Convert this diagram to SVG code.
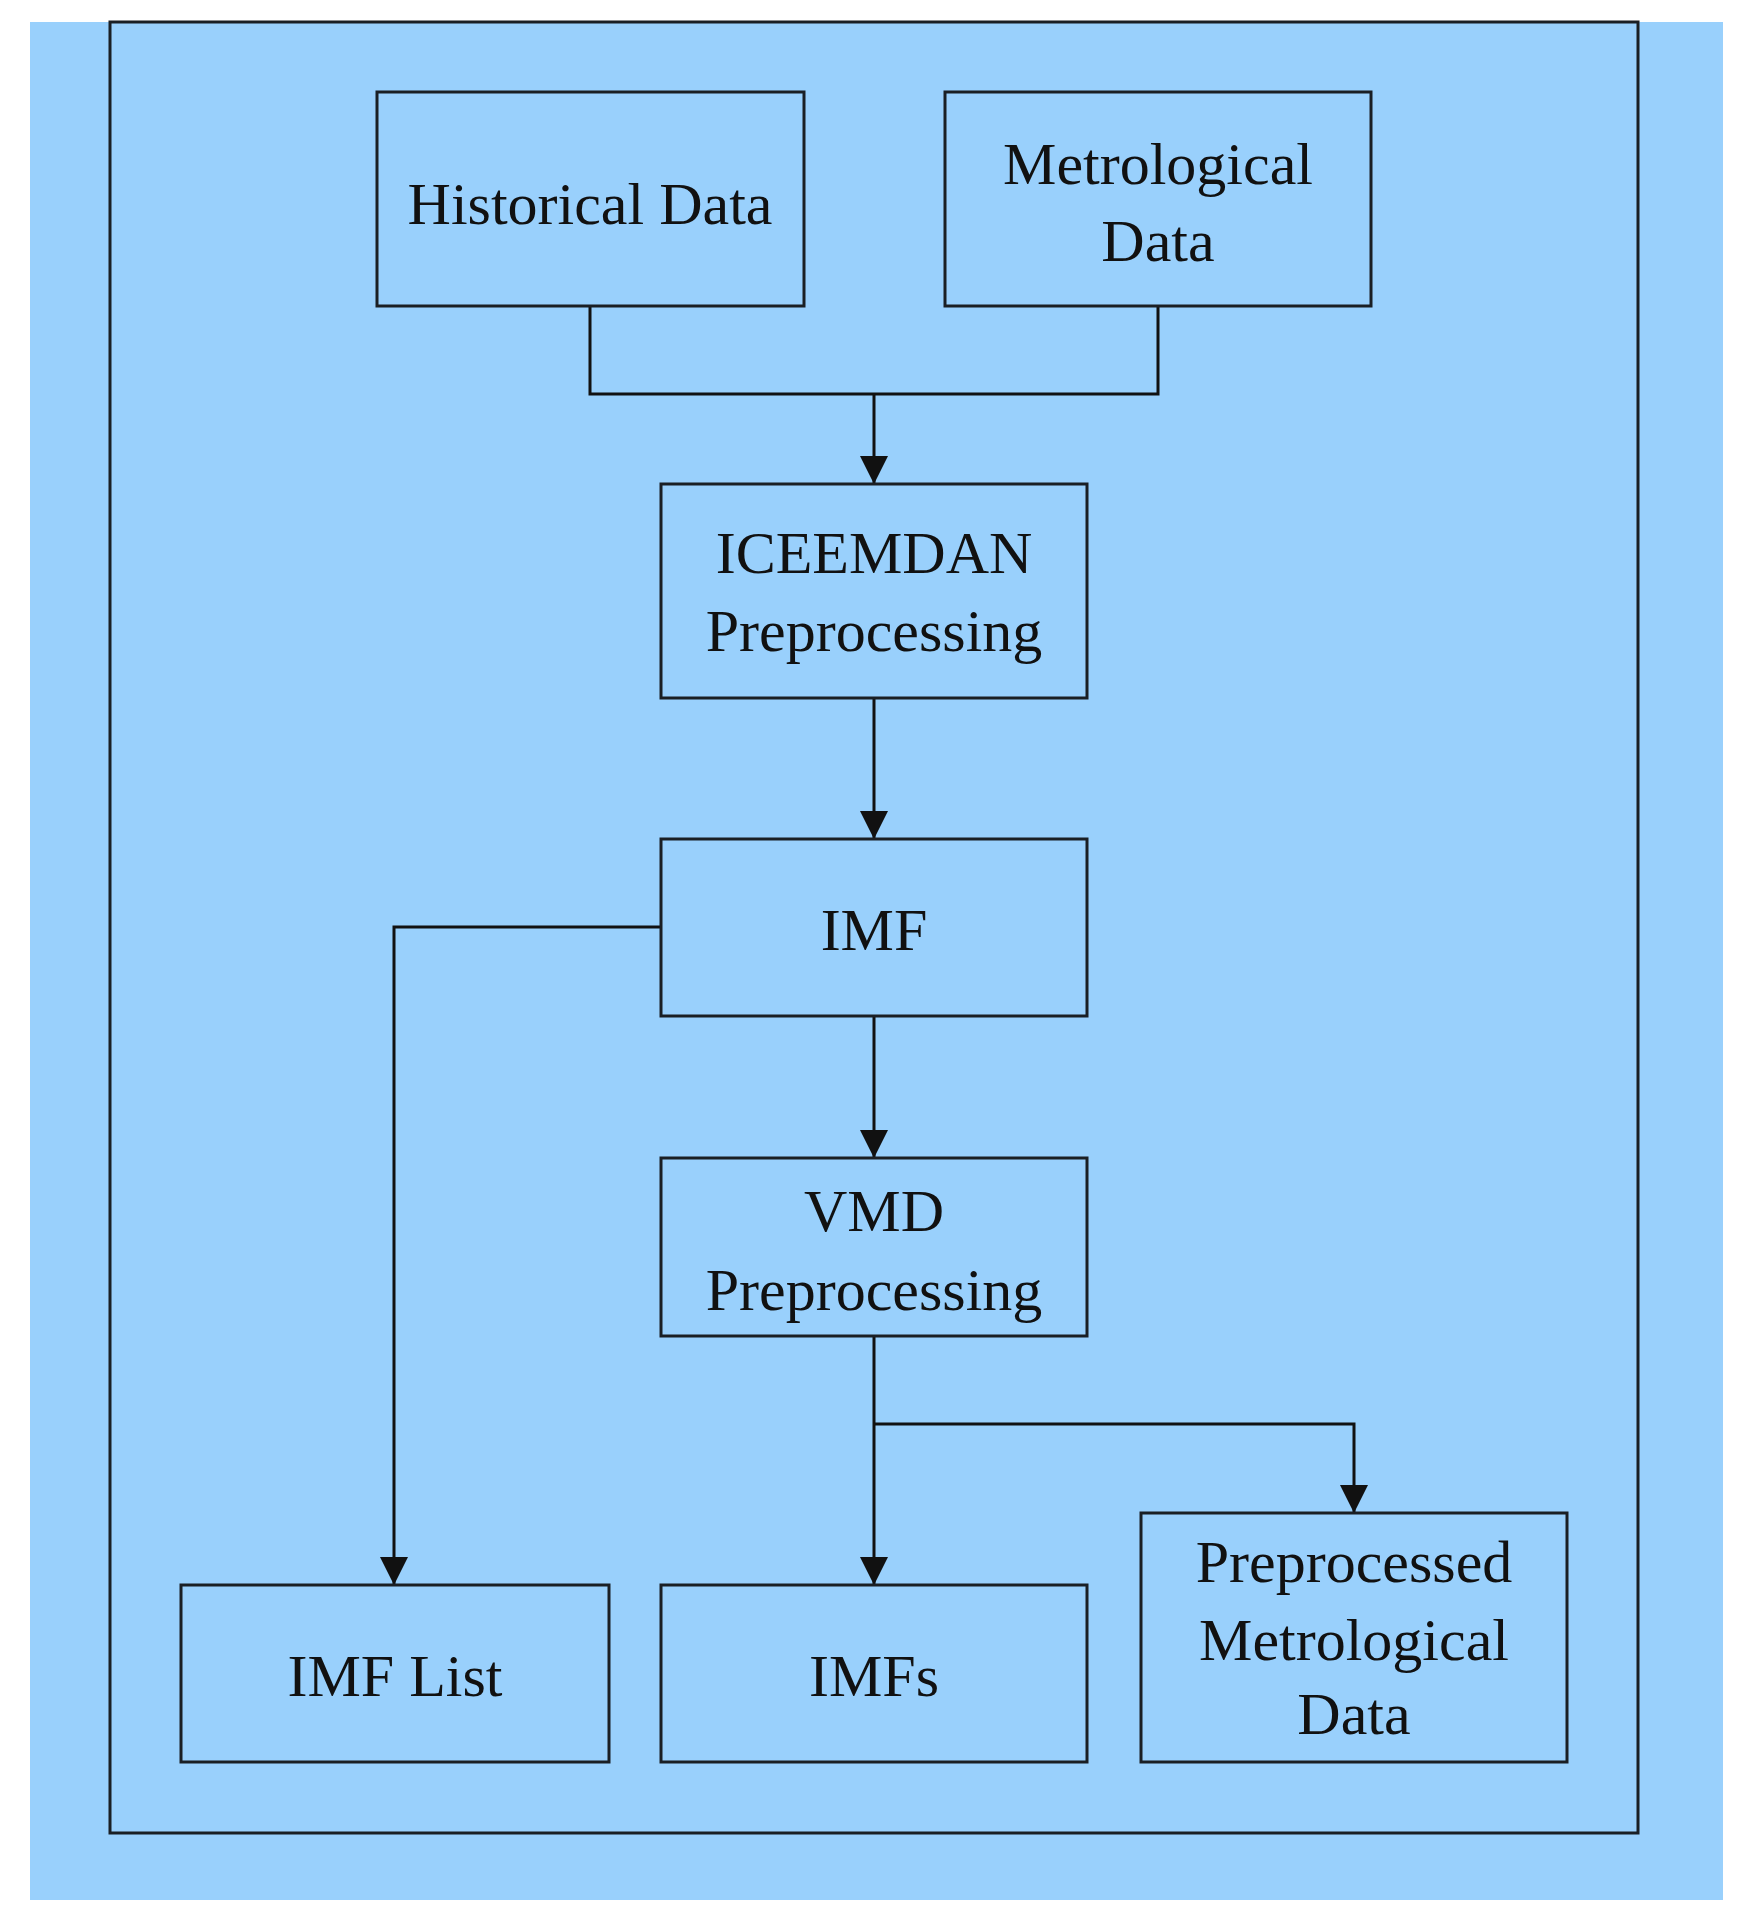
<svg xmlns="http://www.w3.org/2000/svg" width="1746" height="1923" viewBox="0 0 1746 1923">
<style>
.box{fill:#99d0fc;stroke:#1a1f24;stroke-width:3}
.t{font-family:"Liberation Serif",serif;font-size:60px;fill:#111;text-anchor:middle}
.c{fill:none;stroke:#111;stroke-width:3}
</style>
<defs><marker id="a" markerWidth="10" markerHeight="10" refX="9" refY="5" orient="auto" markerUnits="userSpaceOnUse" viewBox="0 0 10 10"><path d="M0,0L10,5L0,10z" fill="#111"/></marker>
<marker id="ah" viewBox="0 0 10 10" refX="10" refY="5" markerWidth="28" markerHeight="28" markerUnits="userSpaceOnUse" orient="auto"><path d="M0,0L10,5L0,10z" fill="#111"/></marker></defs>
<rect x="0" y="0" width="1746" height="1923" fill="#fff"/>
<rect x="30" y="22" width="1693" height="1878" fill="#99d0fc"/>
<rect x="110" y="22" width="1528" height="1811" fill="none" stroke="#1a1f24" stroke-width="3"/>
<g id="connectors">
<path class="c" d="M590,306V394H1158V306"/>
<path class="c" d="M874,394V484" marker-end="url(#ah)"/>
<path class="c" d="M874,698V839" marker-end="url(#ah)"/>
<path class="c" d="M874,1016V1158" marker-end="url(#ah)"/>
<path class="c" d="M661,927H394V1585" marker-end="url(#ah)"/>
<path class="c" d="M874,1336V1585" marker-end="url(#ah)"/>
<path class="c" d="M874,1424H1354V1513" marker-end="url(#ah)"/>
</g>
<g id="historical"><rect class="box" x="377" y="92" width="427" height="214"/><text class="t" x="590" y="224">Historical Data</text></g>
<g id="metrological"><rect class="box" x="945" y="92" width="426" height="214"/><text class="t" x="1158" y="184">Metrological</text><text class="t" x="1158" y="261">Data</text></g>
<g id="iceemdan"><rect class="box" x="661" y="484" width="426" height="214"/><text class="t" x="874" y="573">ICEEMDAN</text><text class="t" x="874" y="651">Preprocessing</text></g>
<g id="imf"><rect class="box" x="661" y="839" width="426" height="177"/><text class="t" x="874" y="950">IMF</text></g>
<g id="vmd"><rect class="box" x="661" y="1158" width="426" height="178"/><text class="t" x="874" y="1231">VMD</text><text class="t" x="874" y="1310">Preprocessing</text></g>
<g id="imflist"><rect class="box" x="181" y="1585" width="428" height="177"/><text class="t" x="395" y="1696">IMF List</text></g>
<g id="imfs"><rect class="box" x="661" y="1585" width="426" height="177"/><text class="t" x="874" y="1696">IMFs</text></g>
<g id="preprocessed"><rect class="box" x="1141" y="1513" width="426" height="249"/><text class="t" x="1354" y="1582">Preprocessed</text><text class="t" x="1354" y="1660">Metrological</text><text class="t" x="1354" y="1734">Data</text></g>
</svg>
